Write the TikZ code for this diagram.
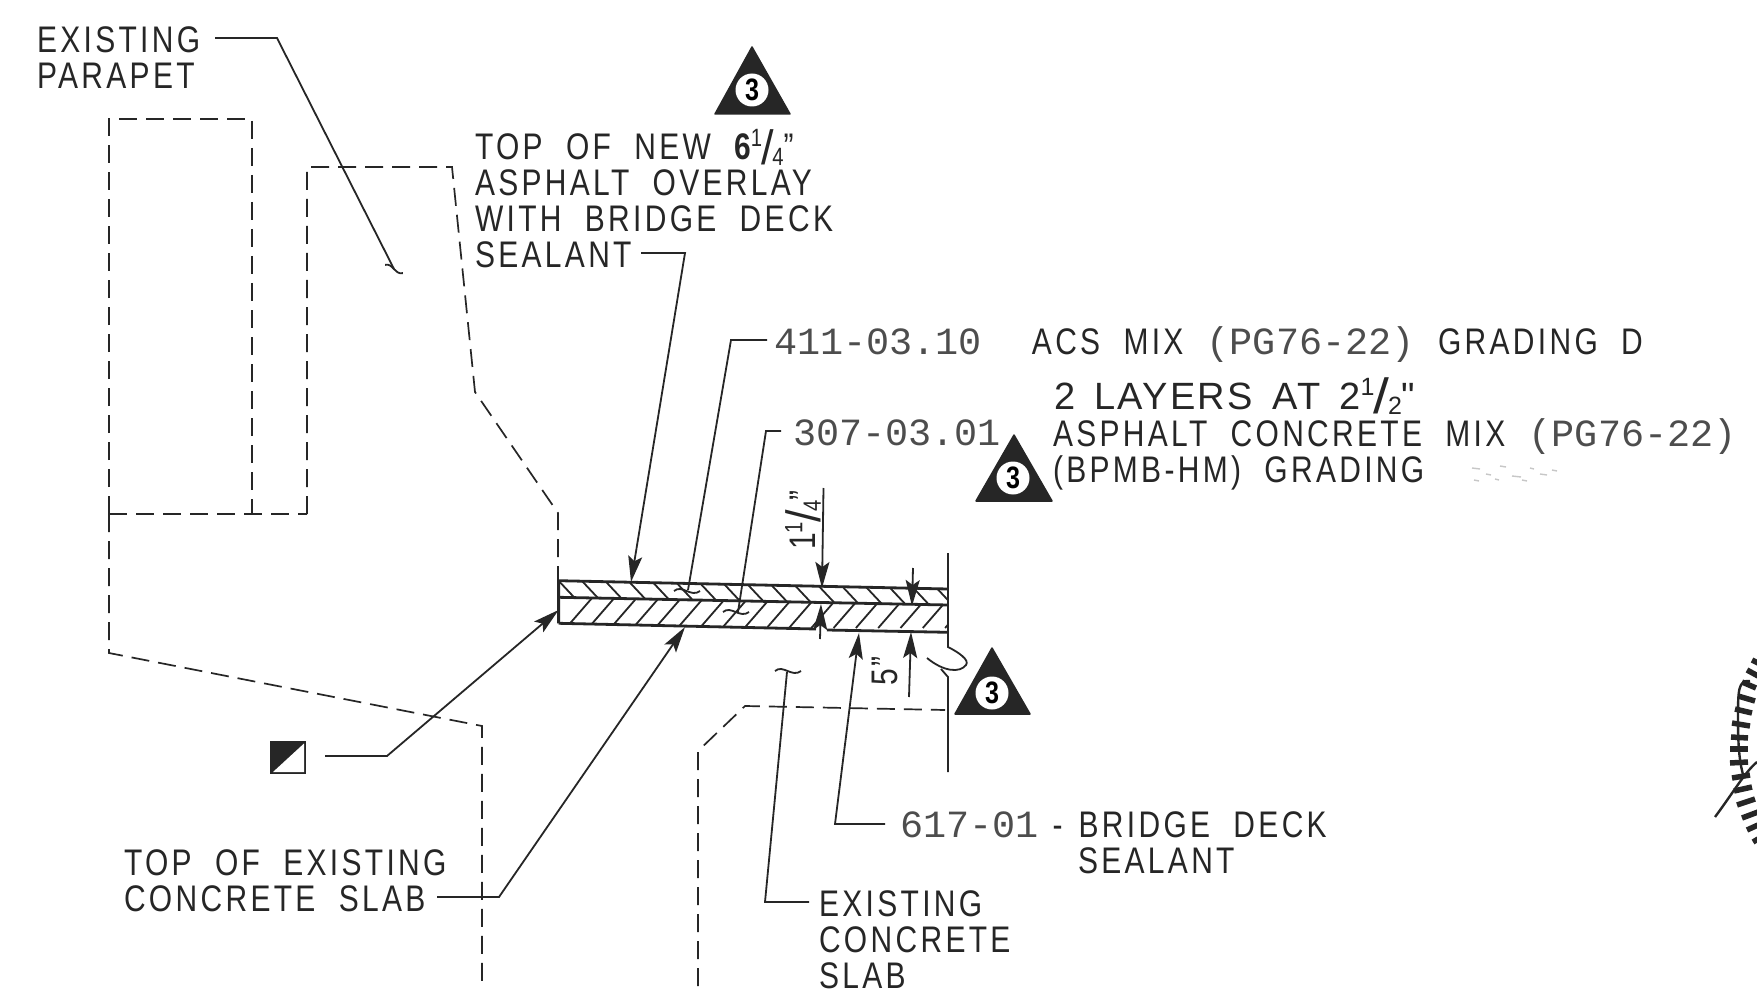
\documentclass[tikz,border=0pt]{standalone}
\usepackage{fontspec}
\setmainfont{Liberation Sans}[FakeStretch=0.81,LetterSpace=9,WordSpace=2.0]
\newfontfamily\handfont{Liberation Sans}[LetterSpace=6,WordSpace=1.5]
\newfontfamily\monofam{Liberation Mono}
\usetikzlibrary{arrows.meta}
\definecolor{ink}{HTML}{262626}
\newcommand{\mn}[1]{{\monofam\fontsize{38.5}{36}\selectfont\color{ink!82} #1}}
\newcommand{\fracbit}[2]{\raisebox{.36em}{\fontsize{25}{25}\selectfont #1}\kern-.03em\raisebox{-.12em}{\scalebox{1.5}[1.3]{/}}\kern-.03em\raisebox{-.14em}{\fontsize{25}{25}\selectfont #2}}
\tikzset{
  lab/.style={inner sep=0pt,outer sep=0pt,anchor=base west,align=left,text=ink,font=\fontsize{37}{36}\selectfont},
  dimtext/.style={inner sep=0pt,outer sep=0pt,text=ink,font=\fontsize{37}{36}\selectfont,rotate=90},
  hand/.style={inner sep=0pt,outer sep=0pt,anchor=base west,text=ink,font=\handfont\fontsize{38}{38}\selectfont},
  lead/.style={draw=ink,line width=1.8pt},
  tiplead/.style={lead,-{Stealth[length=26pt,width=14pt,inset=5pt]}},
  dashln/.style={draw=ink,line width=1.7pt,dash pattern=on 18pt off 9pt},
  slabline/.style={draw=ink,line width=2.8pt,line join=miter},
  hatchline/.style={draw=ink,line width=1.8pt},
  tickline/.style={draw=ink,line width=5.5pt},
  tri/.style={fill=ink,draw=ink,line width=1.5pt,line join=round},
  badge/.style={circle,fill=white,draw=none,inner sep=0pt,minimum size=33pt,text=black,font=\fontsize{31}{31}\bfseries\selectfont},
  pics/squig/.style={code={\draw[lead] (-13,0) .. controls (-5,-7) and (4,7) .. (13,0);}}
}
\begin{document}
\begin{tikzpicture}[x=1pt,y=-1pt]
\useasboundingbox (0,0) rectangle (1757,995);
\fill[white] (0,0) rectangle (1757,995);

% dashed outlines
\draw[dashln] (109,514) -- (109,119) -- (252,119) -- (252,514);
\draw[dashln] (307,514) -- (307,167) -- (452,167) -- (475,392) -- (558,513) -- (558,580);
\draw[dashln] (109,514) -- (307,514);
\draw[dashln] (109,514) -- (109,653) -- (482,726) -- (482,986);
\draw[dashln] (698,986) -- (698,751) -- (745,706) -- (945,710);

% hatching
\begin{scope}
\clip (558.6,580.7) -- (948,589) -- (948,605) -- (558.6,597.3) -- cycle;
\foreach \k in {0,...,17} {\draw[hatchline] ({556+23.2*\k},578) -- ++(30,32);}
\end{scope}
\begin{scope}
\clip (558.6,597.3) -- (948,605) -- (948,632.3) -- (558.6,623.3) -- cycle;
\foreach \k in {0,...,18} {\draw[hatchline] ({566+22.3*\k},628) -- ++(33,-38);}
\end{scope}

% slab
\draw[slabline] (558.6,623.3) -- (558.6,580.7) -- (948,589);
\draw[slabline] (558.6,597.3) -- (948,605);
\draw[slabline] (558.6,623.3) -- (816,629);
\draw[slabline] (827,630) -- (948,632.3);

% end line with break
\draw[lead] (948,553) -- (948,647) .. controls (958,652) and (970,660) .. (966,665)
  .. controls (960,673) and (944,672) .. (927,658);
\draw[lead] (941,669) -- (948,677) -- (948,772);

% triangles
\fill[tri] (752,47) -- (790,114) -- (715,114) -- cycle;
\node[badge] (tA) at (752,90) {3};
\fill[tri] (1014,435) -- (1052,501) -- (976,501) -- cycle;
\node[badge] (tB) at (1013,478) {3};
\fill[tri] (992,648) -- (1030,714) -- (955,714) -- cycle;
\node[badge] (tC) at (992,693) {3};

% labels
\node[lab] (parapet) at (37,88.5) {EXISTING\\PARAPET};
\node[lab] (overlay) at (475,268) {TOP OF NEW {\bfseries 6}\fracbit{1}{4}"\\ASPHALT OVERLAY\\WITH BRIDGE DECK\\SEALANT};
\node[lab] (acs) at (774,354) {\mn{411-03.10}\hspace{50pt}ACS MIX \mn{(PG76-22)} GRADING D};
\node[hand] (layers) at (1054,409) {2 LAYERS AT 2\fracbit{1}{2}"};
\node[lab] (num) at (793,445) {\mn{307-03.01}};
\node[lab] (mix) at (1053,482) {ASPHALT CONCRETE MIX \mn{(PG76-22)}\\(BPMB-HM) GRADING};
\node[lab] (slabtop) at (124,911) {TOP OF EXISTING\\CONCRETE SLAB};
\node[lab] (seal) at (900,837) {\mn{617-01}\hspace{14pt}-\hspace{16pt}BRIDGE DECK};
\node[lab] (seal2) at (1078,873) {SEALANT};
\node[lab] (exslab) at (819,988) {EXISTING\\CONCRETE\\SLAB};
\node[dimtext] (dimA) at (803,520) {1\fracbit{1}{4}"};
\node[dimtext] (dimB) at (885,671) {5"};

% erased text speckle
\foreach \px/\py/\w in {1472/468/8,1486/474/5,1500/466/6,1512/476/9,1530/468/4,1474/480/5,1540/474/7,1552/470/5,1495/479/4,1522/480/5}
  {\draw[black!22,line width=1.4pt] (\px,\py) -- ++(\w,1);}

% black/white square
\fill[ink] (270,741) rectangle (306,774);
\fill[white] (304,743.5) -- (304,772) -- (273,772) -- cycle;
\coordinate (sq) at (325,756);

% leader end points
\coordinate (pA) at (215,38);
\coordinate (pB) at (277,38);
\coordinate (pC) at (394,269);
\coordinate (oA) at (641,253);
\coordinate (oB) at (685,253);
\coordinate (oC) at (631,582);
\coordinate (aA) at (767,340);
\coordinate (aB) at (731,340);
\coordinate (aC) at (688,590);
\coordinate (nA) at (781,431);
\coordinate (nB) at (766,431);
\coordinate (nC) at (738,612);
\coordinate (sqB) at (387,756);
\coordinate (sqC) at (558.6,610);
\coordinate (tA1) at (437,897);
\coordinate (tA2) at (499,897);
\coordinate (tA3) at (685,627);
\coordinate (bA) at (885,824);
\coordinate (bB) at (835,824);
\coordinate (bC) at (859,633);
\coordinate (eA) at (809,902);
\coordinate (eB) at (765,902);
\coordinate (eC) at (787,672);
\coordinate (d1a) at (823.5,488);
\coordinate (d1b) at (822,588);
\coordinate (d1c) at (820,639);
\coordinate (d1d) at (821,604);
\coordinate (d2a) at (913,568);
\coordinate (d2b) at (912,606);
\coordinate (d2c) at (909,697);
\coordinate (d2d) at (911,632);

% leaders
\draw[lead] (pA) -- (pB) -- (pC);
\draw[tiplead] (oA) -- (oB) -- (oC);
\draw[lead] (aA) -- (aB) -- (aC);
\draw[lead] (nA) -- (nB) -- (nC);
\draw[tiplead] (sq) -- (sqB) -- (sqC);
\draw[tiplead] (tA1) -- (tA2) -- (tA3);
\draw[tiplead] (bA) -- (bB) -- (bC);
\draw[lead] (eA) -- (eB) -- (eC);
\draw[tiplead] (d1a) -- (d1b);
\draw[tiplead] (d1c) -- (d1d);
\draw[tiplead] (d2a) -- (d2b);
\draw[tiplead] (d2c) -- (d2d);

% break marks on leaders
\pic[rotate=-25,scale=.75] at (394,269) {squig};
\pic at (687,591) {squig};
\pic at (736,612) {squig};
\pic at (788,671) {squig};

% detail at right edge
\foreach \a/\b/\c/\d in {1752/660/1760/664,1747/670/1758/676,1742/682/1756/688,1738/696/1755/701,1735/709/1752/713,1732/723/1750/726,1731/737/1748/738,1730/749/1748/749,1730/763/1748/762,1732/778/1750/775,1734/791/1752/787,1737/805/1755/799,1742/818/1758/812,1747/830/1758/825,1753/842/1758/839}
  {\draw[tickline] (\a,\b) -- (\c,\d);}
\draw[lead,line width=2.4pt] (1750,681) .. controls (1738,680) and (1738,690) .. (1738,720) .. controls (1738,750) and (1740,765) .. (1744,778);
\draw[lead,line width=2.4pt] (1757,762) .. controls (1745,772) and (1735,790) .. (1715,817);
\end{tikzpicture}
\end{document}
